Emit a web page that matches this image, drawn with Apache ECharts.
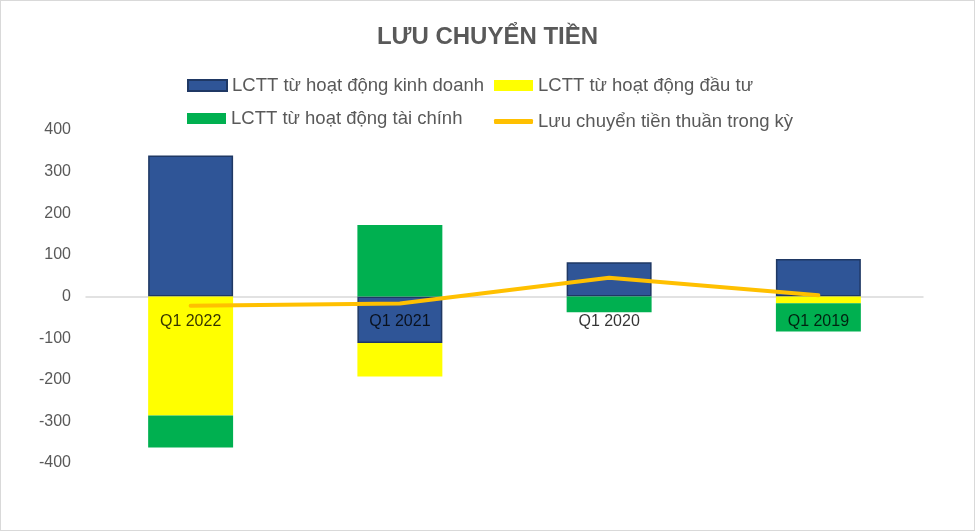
<!DOCTYPE html>
<html>
<head>
<meta charset="utf-8">
<script src="https://cdn.jsdelivr.net/npm/echarts@6/dist/echarts.min.js"></script>
<style>
html,body{margin:0;padding:0;background:#fff;}
#c{width:973px;height:529px;border:1px solid #d9d9d9;}
</style>
</head>
<body>
<div id="c"></div>
<script>
var categories = ['Q1 2022', 'Q1 2021', 'Q1 2020', 'Q1 2019'];
var seriesNames = ['LCTT từ hoạt động kinh doanh', 'LCTT từ hoạt động đầu tư', 'LCTT từ hoạt động tài chính', 'Lưu chuyển tiền thuần trong kỳ'];
var operating = [339, -112, 82, 90];
var investing = [-286, -80, 0, -16];
var financing = [-77, 172, -38, -68];
var netFlow = [-22, -17, 45, 3];
var yTicks = [-400, -300, -200, -100, 0, 100, 200, 300, 400];

var font = 'Liberation Sans, Arial, sans-serif';
var chart = echarts.init(document.getElementById('c'));

function legendItem(name, left, top, icon, h) {
  return {
    data: [name], left: left, top: top, orient: 'horizontal',
    icon: icon, itemWidth: 39, itemHeight: h, itemGap: 0,
    padding: 0,
    textStyle: { color: '#595959', fontSize: 18.5, fontFamily: font },
    selectedMode: false
  };
}

chart.setOption({
  animation: false,
  title: {
    text: 'LƯU CHUYỂN TIỀN', left: 'center', top: 19,
    textStyle: { color: '#595959', fontSize: 24, fontWeight: 'bold', fontFamily: font }
  },
  legend: [
    legendItem(seriesNames[0], 186, 75, 'rect', 11),
    legendItem(seriesNames[1], 493, 75, 'rect', 11),
    legendItem(seriesNames[2], 186, 108, 'rect', 11),
    legendItem(seriesNames[3], 493, 111, 'roundRect', 5)
  ],
  grid: { left: 85, right: 51, top: 129, bottom: 67 },
  xAxis: {
    type: 'category', data: categories,
    axisLine: { onZero: true, lineStyle: { color: '#d9d9d9', width: 1.5 } },
    axisTick: { show: false },
    axisLabel: { show: false }
  },
  yAxis: {
    type: 'value', min: yTicks[0], max: yTicks[yTicks.length - 1], interval: 100,
    splitLine: { show: false },
    axisLine: { show: false }, axisTick: { show: false },
    axisLabel: { color: '#595959', fontSize: 16, fontFamily: font, margin: 15 }
  },
  series: [
    { name: seriesNames[0], type: 'bar', stack: 'a', data: operating, barCategoryGap: '59.4%',
      itemStyle: { color: '#2F5597', borderColor: '#1F3864', borderWidth: 1.5 } },
    { name: seriesNames[1], type: 'bar', stack: 'a', data: investing,
      itemStyle: { color: '#FFFF00' } },
    { name: seriesNames[2], type: 'bar', stack: 'a', data: financing,
      itemStyle: { color: '#00B050' } },
    { name: seriesNames[3], type: 'line', data: netFlow, symbol: 'none',
      lineStyle: { color: '#FFC000', width: 4, cap: 'round' },
      itemStyle: { color: '#FFC000' }, z: 5 },
    { name: 'labels', type: 'scatter', symbolSize: 0, silent: true, z: 10,
      data: categories.map(function (c) { return [c, 0]; }),
      label: { show: true, position: 'bottom', distance: 17,
        formatter: function (p) { return p.value[0]; },
        color: '#000', fontSize: 16, fontFamily: font } }
  ]
});
</script>
</body>
</html>
